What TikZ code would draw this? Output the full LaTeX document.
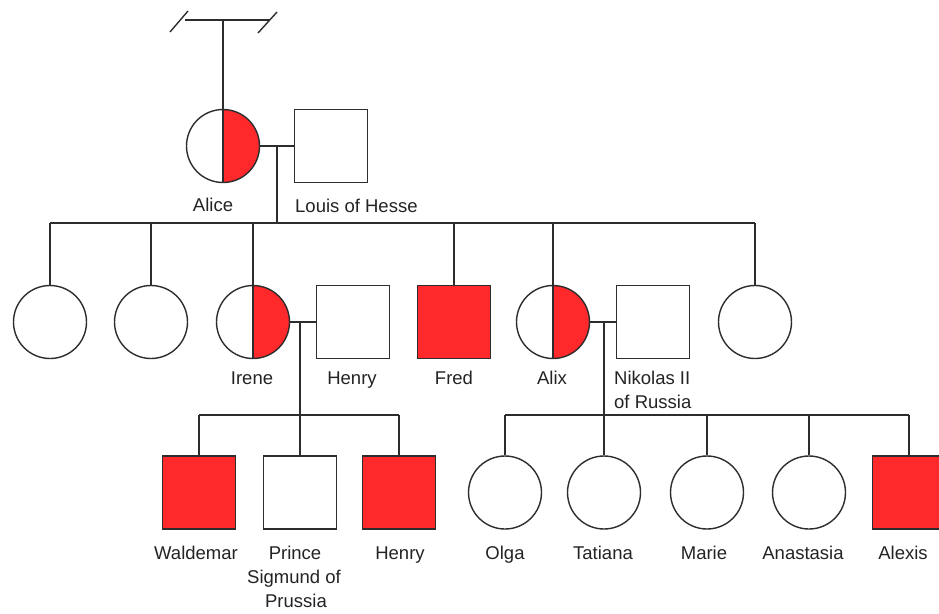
\documentclass[tikz,border=0pt]{standalone}
\usepackage{fontspec}
\setmainfont{Liberation Sans}
\definecolor{affred}{RGB}{255,40,42}
\definecolor{linec}{RGB}{45,45,45}
\definecolor{textc}{RGB}{35,35,35}
\begin{document}
\begin{tikzpicture}[x=1pt,y=-1pt,
  person/.style={draw=linec, line width=1.4pt, inner sep=0pt, minimum size=73pt},
  female/.style={person, circle},
  male/.style={person, rectangle},
  affected/.style={fill=affred},
  carrier/.style={female, path picture={
     \fill[affred] (path picture bounding box.north) rectangle (path picture bounding box.south east);
     \draw[linec, line width=1.4pt] (path picture bounding box.north) -- (path picture bounding box.south);}},
  lnk/.style={draw=linec, line width=1.4pt},
  lbl/.style={font=\fontsize{18.5}{24}\selectfont, text=textc, inner sep=0pt, anchor=base},
  lbll/.style={lbl, anchor=base west},
]
\useasboundingbox (0,0) rectangle (939,613);
\clip (0,0) rectangle (939,613);

% generation I
\coordinate (tl) at (185,20);
\coordinate (tr) at (270,20);
\coordinate (sl1) at (170,32); \coordinate (sl2) at (188,11);
\coordinate (sr1) at (258,33); \coordinate (sr2) at (277,12);
\node[carrier] (alice) at (223,146) {};
\node[male] (louis) at (331,146) {};
\node[lbl] (lalice) at (213,211) {Alice};
\node[lbll] (llouis) at (295,212) {Louis of Hesse};

\draw[lnk] (tl) -- (tr);
\draw[lnk] (sl1) -- (sl2);
\draw[lnk] (sr1) -- (sr2);
\draw[lnk] (alice.north) -- (alice.north |- tl);
\draw[lnk] (alice.east) -- (louis.west);
\coordinate (m1) at (277,146);
\coordinate (s1l) at (50,223);
\coordinate (s1r) at (755,223);
\draw[lnk] (m1) -- (m1 |- s1l);
\draw[lnk] (s1l) -- (s1r);

% generation II
\node[female] (d1) at (50,322) {};
\node[female] (d2) at (151,322) {};
\node[carrier] (irene) at (253,322) {};
\node[male] (henry) at (353,322) {};
\node[male, affected] (fred) at (454,322) {};
\node[carrier] (alix) at (553,322) {};
\node[male] (nikolas) at (653,322) {};
\node[female] (d3) at (755,322) {};

\foreach \c in {d1,d2,irene,fred,alix,d3}
  \draw[lnk] (\c.north) -- (\c.north |- s1l);

\node[lbl] (lirene) at (252,384) {Irene};
\node[lbl] (lhenry) at (352,384) {Henry};
\node[lbl] (lfred) at (454,384) {Fred};
\node[lbl] (lalix) at (552,384) {Alix};
\node[lbll] (lnik1) at (614,384) {Nikolas II};
\node[lbll] (lnik2) at (614,408) {of Russia};

\draw[lnk] (irene.east) -- (henry.west);
\draw[lnk] (alix.east) -- (nikolas.west);

% generation III
\coordinate (m2) at (300,322);
\coordinate (s2l) at (199,415);
\coordinate (s2r) at (399,415);
\coordinate (m3) at (604,322);
\coordinate (s3l) at (505,415);
\coordinate (s3r) at (909,415);

\node[male, affected] (waldemar) at (199,492.5) {};
\node[male] (prince) at (300,492.5) {};
\node[male, affected] (henry2) at (399,492.5) {};
\node[female] (olga) at (505,492.5) {};
\node[female] (tatiana) at (604,492.5) {};
\node[female] (marie) at (707,492.5) {};
\node[female] (anastasia) at (809,492.5) {};
\node[male, affected] (alexis) at (909,492.5) {};

\draw[lnk] (m2) -- (prince.north);
\draw[lnk] (s2l) -- (s2r);
\draw[lnk] (m3) -- (tatiana.north);
\draw[lnk] (s3l) -- (s3r);
\foreach \c in {waldemar,henry2}
  \draw[lnk] (\c.north) -- (\c.north |- s2l);
\foreach \c in {olga,marie,anastasia,alexis}
  \draw[lnk] (\c.north) -- (\c.north |- s3l);

\node[lbl] (lwal) at (196,559) {Waldemar};
\node[lbl] (lpr1) at (295,559) {Prince};
\node[lbl] (lpr2) at (294,583) {Sigmund of};
\node[lbl] (lpr3) at (296,607) {Prussia};
\node[lbl] (lhen2) at (400,559) {Henry};
\node[lbl] (lolga) at (505,559) {Olga};
\node[lbl] (ltat) at (603,559) {Tatiana};
\node[lbl] (lmar) at (704,559) {Marie};
\node[lbl] (lana) at (803,559) {Anastasia};
\node[lbl] (lalex) at (903,559) {Alexis};
\end{tikzpicture}
\end{document}
